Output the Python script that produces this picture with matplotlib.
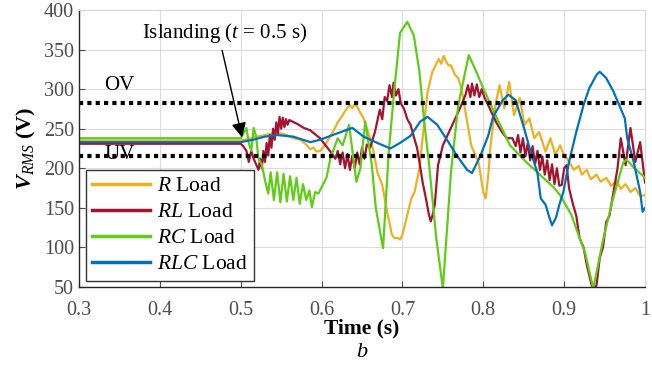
import matplotlib
matplotlib.use("Agg")
import matplotlib.pyplot as plt

plt.rcParams['font.family'] = ['Liberation Serif', 'DejaVu Serif']
plt.rcParams['mathtext.fontset'] = 'custom'
plt.rcParams['mathtext.it'] = 'Liberation Serif:italic'
plt.rcParams['mathtext.rm'] = 'Liberation Serif'
plt.rcParams['mathtext.bf'] = 'Liberation Serif:bold:italic'

# ---------------- data ----------------
t_R = [0.30, 0.500, 0.510, 0.520, 0.530, 0.540, 0.550, 0.557, 0.565, 0.574, 0.582, 0.586, 0.590,
       0.594, 0.598, 0.604, 0.614, 0.620, 0.626, 0.630, 0.635, 0.638, 0.641, 0.644, 0.648, 0.652,
       0.656, 0.660, 0.664, 0.669, 0.675, 0.681, 0.687, 0.690, 0.694, 0.697, 0.700, 0.705, 0.711,
       0.715, 0.721, 0.727, 0.731, 0.737, 0.741, 0.745, 0.748, 0.751, 0.754, 0.757, 0.760, 0.765,
       0.769, 0.773, 0.778, 0.785, 0.794, 0.800, 0.803, 0.806, 0.809, 0.815, 0.820, 0.826, 0.832,
       0.838, 0.845, 0.851, 0.857, 0.863, 0.869, 0.877, 0.883, 0.889, 0.895, 0.900, 0.903, 0.908,
       0.912, 0.918, 0.922, 0.928, 0.933, 0.940, 0.945, 0.952, 0.958, 0.965, 0.970, 0.976, 0.982,
       0.988, 0.994, 1.000]
v_R = [235, 235, 237, 240, 242, 244, 244, 242, 238, 236, 229, 224, 226,
       221, 222, 229, 246, 258, 267, 274, 280, 276, 281, 278, 270, 263,
       250, 238, 222, 195, 179, 145, 116, 112, 112, 110, 116, 137, 162,
       170, 200, 258, 296, 322, 330, 338, 332, 342, 335, 330, 330, 318,
       314, 301, 271, 229, 208, 170, 162, 190, 229, 280, 305, 276, 309,
       267, 289, 255, 263, 238, 246, 221, 238, 217, 229, 215, 213, 205,
       198, 203, 192, 198, 186, 192, 183, 188, 178, 184, 174, 180, 170,
       175, 165, 166]

t_RL = [0.30, 0.500, 0.503, 0.507, 0.510, 0.513, 0.516, 0.519, 0.522, 0.524, 0.526, 0.528, 0.530,
        0.532, 0.534, 0.536, 0.538, 0.540, 0.542, 0.544, 0.546, 0.548, 0.550, 0.552, 0.554, 0.556,
        0.558, 0.560, 0.570, 0.578, 0.586, 0.598, 0.611, 0.617, 0.620, 0.623, 0.626, 0.629, 0.632,
        0.635, 0.638, 0.641, 0.644, 0.647, 0.650, 0.653, 0.656, 0.660, 0.666, 0.672, 0.675, 0.678,
        0.681, 0.684, 0.687, 0.689, 0.692, 0.695, 0.698, 0.702, 0.706, 0.710, 0.714, 0.718, 0.721,
        0.725, 0.729, 0.733, 0.735, 0.737, 0.740, 0.744, 0.750, 0.755, 0.760, 0.765, 0.769, 0.775,
        0.778, 0.781, 0.784, 0.786, 0.789, 0.792, 0.795, 0.798, 0.802, 0.806, 0.810, 0.816, 0.823,
        0.829, 0.836, 0.840, 0.843, 0.846, 0.849, 0.852, 0.855, 0.858, 0.861, 0.864, 0.867, 0.870,
        0.873, 0.876, 0.879, 0.882, 0.885, 0.888, 0.891, 0.894, 0.897, 0.900, 0.903, 0.906, 0.911,
        0.915, 0.919, 0.924, 0.928, 0.934, 0.937, 0.940, 0.944, 0.948, 0.952, 0.956, 0.961, 0.966,
        0.970, 0.976, 0.982, 0.988, 0.994, 1.000]
v_RL = [231, 231, 228, 222, 208, 222, 212, 205, 198, 212, 200, 222, 208,
        232, 216, 242, 226, 250, 236, 258, 244, 265, 250, 264, 252, 262,
        255, 261, 256, 251, 248, 238, 221, 212, 222, 205, 220, 200, 218,
        198, 216, 200, 220, 205, 226, 212, 230, 226, 246, 274, 262, 290,
        285, 305, 290, 308, 292, 300, 282, 275, 262, 255, 240, 226, 208,
        182, 162, 140, 133, 140, 154, 204, 229, 240, 251, 262, 271, 285,
        293, 305, 290, 307, 292, 306, 290, 300, 288, 280, 271, 258, 246,
        238, 238, 228, 242, 220, 238, 215, 232, 210, 228, 205, 222, 198,
        215, 192, 210, 185, 205, 180, 200, 178, 179, 200, 204, 175, 154,
        140, 112, 100, 78, 52, 48, 52, 87, 100, 132, 140, 170, 200,
        238, 204, 251, 208, 233, 182]

t_RC = [0.30, 0.500, 0.504, 0.507, 0.510, 0.513, 0.516, 0.519, 0.522, 0.526, 0.530, 0.534, 0.537,
        0.541, 0.545, 0.549, 0.553, 0.557, 0.561, 0.565, 0.569, 0.573, 0.577, 0.581, 0.585, 0.588,
        0.592, 0.596, 0.600, 0.606, 0.611, 0.620, 0.626, 0.634, 0.643, 0.648, 0.654, 0.662, 0.667,
        0.676, 0.683, 0.690, 0.697, 0.706, 0.714, 0.721, 0.727, 0.733, 0.742, 0.750, 0.760, 0.769,
        0.782, 0.790, 0.800, 0.817, 0.833, 0.854, 0.872, 0.887, 0.895, 0.909, 0.918, 0.926, 0.936,
        0.948, 0.960, 0.973, 0.977, 0.987, 1.000]
v_RC = [238, 238, 245, 251, 232, 222, 251, 240, 212, 205, 185, 168, 195,
        160, 195, 157, 193, 158, 190, 160, 188, 155, 180, 160, 172, 151,
        170, 168, 176, 188, 213, 238, 229, 255, 183, 200, 259, 205, 150,
        99, 220, 300, 371, 385, 368, 322, 258, 204, 110, 48, 195, 280,
        343, 325, 301, 263, 229, 207, 190, 176, 166, 141, 115, 93, 48,
        109, 160, 207, 211, 200, 188]

t_RLC = [0.30, 0.500, 0.515, 0.530, 0.545, 0.565, 0.586, 0.598, 0.619, 0.638, 0.652, 0.669, 0.685,
         0.697, 0.710, 0.722, 0.731, 0.743, 0.755, 0.768, 0.780, 0.786, 0.796, 0.806, 0.812, 0.824,
         0.831, 0.840, 0.850, 0.858, 0.867, 0.871, 0.877, 0.882, 0.885, 0.890, 0.894, 0.899, 0.906,
         0.915, 0.924, 0.931, 0.940, 0.944, 0.952, 0.961, 0.968, 0.975, 0.978, 0.986, 0.994, 0.997,
         1.000]
v_RLC = [233, 233, 236, 240, 242, 240, 233, 236, 244, 251, 240, 232, 225,
         232, 241, 259, 265, 255, 236, 215, 198, 194, 215, 241, 265, 286,
         293, 286, 252, 223, 194, 162, 154, 137, 128, 138, 154, 170, 208,
         246, 280, 301, 318, 322, 314, 297, 280, 263, 238, 208, 170, 145,
         150]

OV_level = 283
UV_level = 216

series_labels = [r'$R$ Load', r'$RL$ Load', r'$RC$ Load', r'$RLC$ Load']
colors = ['#EDB120', '#A2142F', '#5FCC16', '#0072BD']

x_ticks = [0.3, 0.4, 0.5, 0.6, 0.7, 0.8, 0.9, 1.0]
x_ticklabels = ['0.3', '0.4', '0.5', '0.6', '0.7', '0.8', '0.9', '1']
y_ticks = [50, 100, 150, 200, 250, 300, 350, 400]
y_ticklabels = ['50', '100', '150', '200', '250', '300', '350', '400']

# ---------------- figure ----------------
fig = plt.figure(figsize=(6.52, 3.74), dpi=100)
ax = fig.add_axes([0.1212, 0.2326, 0.8681, 0.7407])

lines = []
for t, v, c, lab in zip([t_R, t_RL, t_RC, t_RLC], [v_R, v_RL, v_RC, v_RLC], colors, series_labels):
    ln, = ax.plot(t, v, color=c, lw=1.6, label=lab, solid_joinstyle='round')
    lines.append(ln)

ax.axhline(OV_level, color='black', lw=3, linestyle=(0, (1, 1)))
ax.axhline(UV_level, color='black', lw=3, linestyle=(0, (1, 1)))

ax.text(0.35, 305, 'OV', fontsize=15, ha='center', va='center')
ax.text(0.35, 218, 'UV', fontsize=15, ha='center', va='center')

ax.annotate('Islanding ($t$ = 0.5 s)', xy=(0.5017, 239), xytext=(0.4795, 371),
            textcoords='data', fontsize=15, ha='center', va='center',
            arrowprops=dict(arrowstyle='-|>', color='black', lw=1.0, mutation_scale=22,
                            relpos=(0.48, 0.0), shrinkA=2, shrinkB=0))

ax.set_xlim(0.3, 1.0)
ax.set_ylim(50, 400)
ax.set_xticks(x_ticks)
ax.set_xticklabels(x_ticklabels, fontfamily='Liberation Serif')
ax.set_yticks(y_ticks)
ax.set_yticklabels(y_ticklabels, fontfamily='Liberation Serif')
ax.tick_params(direction='in', labelsize=14.5, labelcolor='#4d4d4d', color='#4d4d4d',
               length=4, width=0.8)
ax.tick_params(axis='x', pad=10)
ax.grid(True, color='#dcdcdc', lw=0.8)
ax.set_axisbelow(True)
for side in ['top', 'right']:
    ax.spines[side].set_color('#d9d9d9')
for side in ['left', 'bottom']:
    ax.spines[side].set_color('#262626')
    ax.spines[side].set_linewidth(1.0)

ax.set_xlabel('Time (s)', fontsize=15.5, fontweight='bold', labelpad=-1)
ax.set_ylabel(r'$\mathbf{V}_{RMS}$ (V)', fontsize=16, fontweight='bold', labelpad=4)

leg = ax.legend(handles=lines, loc='lower left', bbox_to_anchor=(0.012, 0.022),
                fontsize=15.5, handlelength=2.7, handletextpad=0.3, labelspacing=0.28,
                borderpad=0.3, borderaxespad=0.0, fancybox=False, framealpha=1,
                edgecolor='#333333')
leg.get_frame().set_linewidth(1.0)
for lh in leg.get_lines():
    lh.set_linewidth(2.5)

fig.text(0.555, 0.058, r'$b$', fontsize=16, ha='center', va='center')

fig.savefig('out.png', dpi=100)
